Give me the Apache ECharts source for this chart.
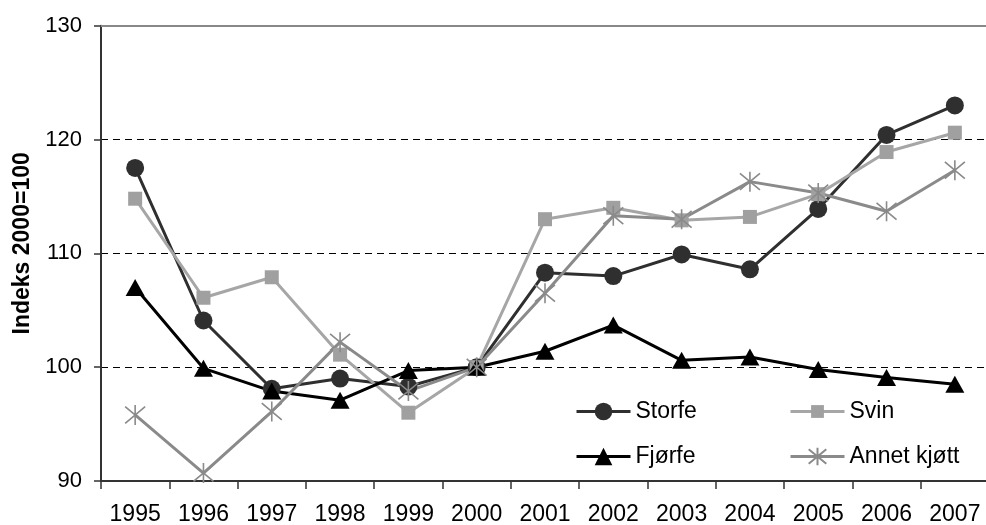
<!DOCTYPE html>
<html><head><meta charset="utf-8">
<script src="https://cdn.jsdelivr.net/npm/echarts@6/dist/echarts.min.js"></script>
<style>html,body{margin:0;padding:0;background:#fff}#c{width:986px;height:525px}</style>
</head><body><div id="c"></div>
<script>
const years = ['1995','1996','1997','1998','1999','2000','2001','2002','2003','2004','2005','2006','2007'];
const storfe = [117.5, 104.1, 98.1, 99.0, 98.3, 100, 108.3, 108.0, 109.9, 108.6, 113.9, 120.4, 123.0];
const svin   = [114.8, 106.1, 107.9, 101.1, 96.0, 100, 113.0, 114.0, 112.9, 113.2, 115.2, 118.9, 120.6];
const fjorfe = [107.0, 99.9, 97.9, 97.1, 99.7, 100, 101.4, 103.7, 100.6, 100.9, 99.8, 99.1, 98.5];
const annet  = [95.8, 90.7, 96.1, 102.2, 97.9, 100, 106.5, 113.3, 113.0, 116.3, 115.3, 113.7, 117.3];
const yTicks = [90, 100, 110, 120, 130];
const names = ['Storfe', 'Svin', 'Fjørfe', 'Annet kjøtt'];

const FONT = 'Liberation Sans, Arial, sans-serif';
const star = 'path://M0,0L10,10M10,0L0,10M5,-1L5,11';

const chart = echarts.init(document.getElementById('c'), null, {renderer: 'canvas'});

function leg(name, left, top, ih) {
  return {
    data: [name], left: left, top: top, padding: 0, itemWidth: 54, itemHeight: ih, itemGap: 0,
    textStyle: {fontFamily: FONT, fontSize: 23, color: '#000'},
    lineStyle: {width: 3},
    selectedMode: false
  };
}

chart.setOption({
  animation: false,
  backgroundColor: '#fff',
  grid: {left: 101, top: 25.7, bottom: 44, right: -3, containLabel: false, outerBoundsMode: 'none'},
  legend: [leg(names[0], 575, 400, 22), leg(names[1], 789, 400, 16), leg(names[2], 575, 445, 22), leg(names[3], 789, 445, 22)],
  xAxis: [{
    type: 'category', data: years, boundaryGap: true,
    axisLine: {lineStyle: {color: '#333', width: 2}},
    axisTick: {show: true, length: 8, lineStyle: {color: '#333', width: 1.5}},
    axisLabel: {fontFamily: FONT, fontSize: 23, color: '#000', margin: 22, interval: 0},
    splitLine: {show: false}
  }, {
    type: 'category', data: years, position: 'top',
    axisLine: {show: true, lineStyle: {color: '#888', width: 2}},
    axisTick: {show: false}, axisLabel: {show: false}, splitLine: {show: false}
  }],
  yAxis: {
    type: 'value', min: yTicks[0], max: yTicks[yTicks.length - 1], interval: 10,
    name: 'Indeks 2000=100', nameLocation: 'middle', nameRotate: 90, nameGap: 67,
    nameTextStyle: {fontFamily: FONT, fontSize: 23, fontWeight: 'bold', color: '#000', padding: [0, 0, 0, 20]},
    axisLine: {show: true, lineStyle: {color: '#333', width: 2}},
    axisTick: {show: true, length: 7, lineStyle: {color: '#333', width: 1.5}},
    axisLabel: {fontFamily: FONT, fontSize: 22, color: '#000', margin: 19},
    splitLine: {show: true, lineStyle: {color: '#000', width: 1, type: [7, 5]}}
  },
  series: [
    {name: names[0], type: 'line', data: storfe, symbol: 'circle', symbolSize: 18,
     lineStyle: {color: '#2f2f2f', width: 3}, itemStyle: {color: '#2f2f2f'}},
    {name: names[1], type: 'line', data: svin, symbol: 'rect', symbolSize: 14,
     lineStyle: {color: '#a6a6a6', width: 3}, itemStyle: {color: '#a0a0a0'}},
    {name: names[2], type: 'line', data: fjorfe, symbol: 'triangle', symbolSize: [19, 17],
     lineStyle: {color: '#000', width: 3}, itemStyle: {color: '#000'}},
    {name: names[3], type: 'line', data: annet, symbol: star, symbolSize: 20,
     lineStyle: {color: '#8a8a8a', width: 3},
     itemStyle: {color: 'none', borderColor: '#8a8a8a', borderWidth: 1.6}}
  ]
});
</script>
</body></html>
